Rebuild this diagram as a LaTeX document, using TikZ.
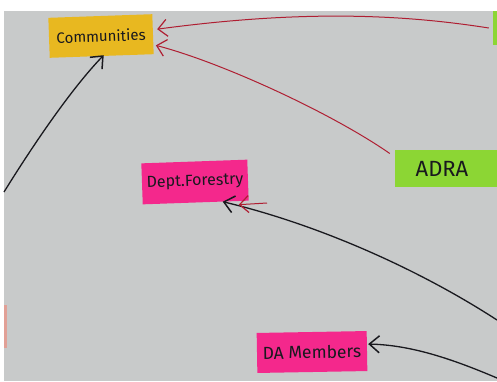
\documentclass[tikz,border=0pt]{standalone}
\usepackage{fontspec}
\setmainfont{Fira Sans}
\usetikzlibrary{arrows.meta}
\definecolor{paper}{RGB}{200,202,202}
\definecolor{yellownote}{RGB}{232,184,32}
\definecolor{pinknote}{RGB}{244,40,140}
\definecolor{greennote}{RGB}{140,214,52}
\definecolor{redpen}{RGB}{175,30,50}
\definecolor{inkblack}{RGB}{25,25,30}
\definecolor{salmonnote}{RGB}{225,160,150}
\tikzset{
  note/.style={inner sep=0pt, text=inkblack, font=\fontsize{14}{16}\selectfont},
  redline/.style={draw=redpen, line width=1pt, -{Straight Barb[length=9pt,width=17pt,line width=1.2pt]}},
  blackline/.style={draw=inkblack, line width=1.3pt, -{Straight Barb[length=10pt,width=17pt,line width=1.5pt]}}
}
\begin{document}
\begin{tikzpicture}[x=1pt,y=-1pt]
\useasboundingbox (0,0) rectangle (497,381);
\fill[white] (0,0) rectangle (497,381);
\fill[paper] (4,11) rectangle (497,381);
\fill[salmonnote] (4,305) rectangle (7,348);

\node[note, fill=yellownote, minimum width=104pt, minimum height=40pt, rotate=2, font=\fontsize{15}{17}\selectfont] (comm) at (101,36) {Communities};
\node[note, fill=greennote, minimum width=14pt, minimum height=34pt] (gtop) at (500,28) {};
\node[note, fill=greennote, minimum width=110pt, minimum height=37pt, font=\fontsize{22}{24}\selectfont] (adra) at (450,168.5) {\hspace*{-16pt}ADRA};
\node[note, fill=pinknote, minimum width=106pt, minimum height=41pt, rotate=2, font=\fontsize{16}{18}\selectfont] (dept) at (195,182) {Dept.Forestry};
\node[note, fill=pinknote, minimum width=110pt, minimum height=40pt, rotate=1, font=\fontsize{17.5}{20}\selectfont] (da) at (312,352) {DA Members};

\coordinate (r1) at (497,320);
\coordinate (r2) at (497,378);
\coordinate (l1) at (4,192);
\coordinate (rs) at (267,203);

\draw[redline] ([xshift=-4pt]gtop.west) .. controls (400,14) and (300,10) .. ([shift={(4,-5)}]comm.east);
\draw[redline] ([shift={(-5,-15)}]adra.west) .. controls (330,112) and (220,62) .. ([shift={(2,-9)}]comm.south east);
\draw[blackline] (r1) .. controls (420,270) and (320,225) .. ([shift={(27,-1)}]dept.south);
\draw[redline] (rs) -- ([shift={(43,2)}]dept.south);
\draw[blackline] (r2) .. controls (450,358) and (410,345) .. ([shift={(1,-7)}]da.east);
\draw[blackline] (l1) .. controls (30,150) and (70,90) .. ([shift={(2,-1)}]comm.south);
\end{tikzpicture}
\end{document}
